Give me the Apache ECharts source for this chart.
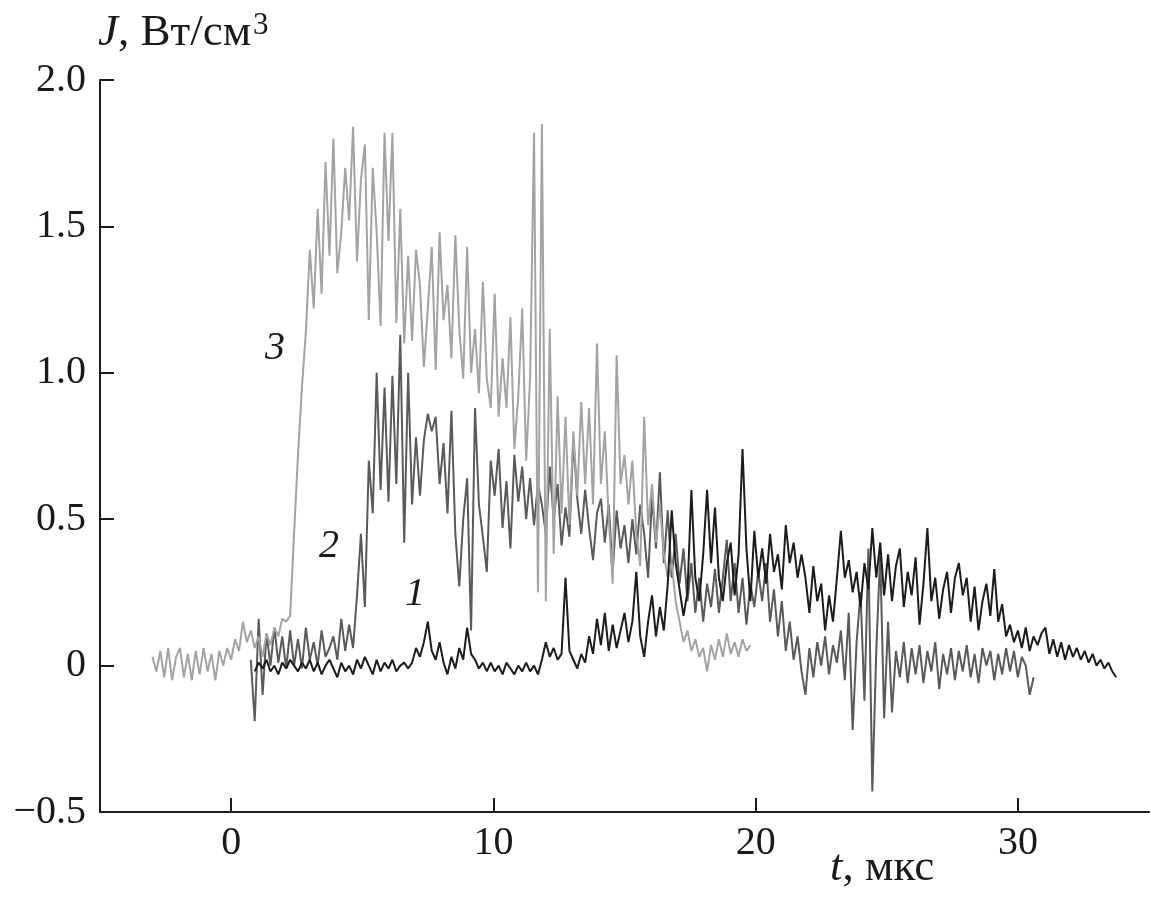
<!DOCTYPE html>
<html>
<head>
<meta charset="utf-8">
<script src="https://cdn.jsdelivr.net/npm/echarts@6/dist/echarts.min.js"></script>
<style>
html,body{margin:0;padding:0;background:#fff;}
#chart{width:1151px;height:904px;}
</style>
</head>
<body>
<div id="chart"></div>
<script>
// ---- data ----
// time sampling grid (мкс)
const dt = 0.15;
const t3Start = -3.0;
const t2Start = 0.75;
const t1Start = 0.9;

// curve 3 (light gray)
const curve3 = [
  0.03,-0.02,0.05,-0.04,0.06,-0.05,0.03,0.06,-0.04,0.04,
  -0.05,0.05,-0.03,0.06,-0.02,0.04,-0.05,0.05,0.00,0.06,
  0.02,0.09,0.05,0.15,0.08,0.12,0.06,0.10,0.03,0.11,
  0.07,0.13,0.10,0.16,0.15,0.17,0.45,0.72,0.95,1.14,
  1.42,1.22,1.56,1.27,1.72,1.40,1.80,1.34,1.48,1.70,
  1.52,1.84,1.38,1.66,1.78,1.18,1.70,1.48,1.16,1.82,
  1.45,1.82,1.17,1.56,1.10,1.40,1.11,1.42,1.30,1.02,
  1.22,1.43,1.01,1.48,1.18,1.30,1.05,1.47,1.15,0.98,
  1.43,1.00,1.15,0.93,1.31,0.98,0.88,1.27,0.85,1.05,
  0.88,1.19,0.74,0.92,1.22,0.70,0.98,1.82,0.25,1.85,
  0.22,1.15,0.38,0.92,0.52,0.85,0.48,0.80,0.58,0.90,
  0.62,0.88,0.55,1.10,0.62,0.80,0.50,0.28,1.06,0.62,
  0.72,0.55,0.70,0.45,0.34,0.85,0.48,0.62,0.42,0.55,
  0.38,0.30,0.35,0.22,0.15,0.08,0.12,0.05,0.09,0.03,
  0.06,-0.02,0.07,0.02,0.09,0.03,0.11,0.04,0.08,0.03,
  0.09,0.05,0.07
];

// curve 2 (medium gray)
const curve2 = [
  0.02,-0.19,0.16,-0.10,0.11,0.00,0.13,0.01,0.10,-0.01,
  0.12,0.00,0.09,-0.01,0.13,0.02,0.08,0.00,0.12,0.03,
  0.06,0.10,0.02,0.16,0.05,0.14,0.06,0.24,0.45,0.20,
  0.70,0.52,1.00,0.60,0.95,0.56,0.99,0.62,1.13,0.42,
  1.00,0.55,0.78,0.58,0.77,0.86,0.80,0.85,0.62,0.76,
  0.52,0.87,0.45,0.27,0.50,0.64,0.12,0.88,0.55,0.44,
  0.32,0.70,0.58,0.74,0.47,0.63,0.40,0.72,0.56,0.68,
  0.50,0.64,0.48,0.62,0.55,0.45,0.68,0.50,0.62,0.41,
  0.54,0.44,0.77,0.57,0.45,0.60,0.47,0.36,0.52,0.57,
  0.42,0.55,0.32,0.53,0.40,0.48,0.35,0.50,0.38,0.55,
  0.45,0.30,0.58,0.40,0.66,0.35,0.53,0.30,0.45,0.28,
  0.40,0.22,0.35,0.18,0.30,0.15,0.28,0.20,0.33,0.18,
  0.30,0.43,0.22,0.35,0.18,0.30,0.14,0.28,0.20,0.32,
  0.22,0.35,0.15,0.26,0.10,0.22,0.05,0.15,0.02,0.10,
  -0.02,-0.10,0.06,-0.04,0.08,0.00,0.10,-0.03,0.07,0.01,
  0.12,-0.05,0.18,-0.22,0.08,0.25,-0.12,0.40,-0.43,0.05,
  0.38,-0.18,0.15,-0.16,0.05,-0.04,0.08,-0.06,0.06,-0.03,
  0.07,-0.06,0.05,-0.02,0.08,-0.08,0.04,-0.03,0.06,-0.05,
  0.05,-0.02,0.07,-0.04,0.04,-0.06,0.06,0.00,0.05,-0.05,
  0.04,-0.03,0.06,-0.02,0.05,-0.04,0.03,0.00,-0.10,-0.04
];

// curve 1 (near black)
const curve1 = [
  -0.02,0.01,-0.01,0.02,-0.02,0.00,-0.03,0.01,-0.01,0.02,
  0.00,-0.02,0.01,-0.01,0.02,-0.02,0.01,-0.03,0.00,0.02,
  -0.01,-0.04,0.01,-0.02,0.00,-0.03,0.02,-0.01,0.03,0.00,
  -0.03,0.02,-0.02,0.01,-0.01,0.02,-0.02,0.00,0.01,-0.01,
  0.01,0.06,0.03,0.08,0.15,0.05,0.02,0.08,0.01,-0.03,
  0.03,-0.01,0.06,0.02,0.13,0.04,0.02,-0.01,0.01,-0.02,
  0.01,-0.02,0.00,-0.03,0.01,-0.01,-0.03,0.00,-0.02,0.01,
  -0.02,0.00,-0.03,0.02,0.08,0.03,0.06,0.02,0.04,0.30,
  0.05,0.02,-0.01,0.04,0.01,0.10,0.04,0.16,0.07,0.18,
  0.05,0.14,0.06,0.12,0.18,0.08,0.15,0.32,0.10,0.03,
  0.15,0.24,0.10,0.20,0.12,0.28,0.53,0.35,0.26,0.17,
  0.25,0.60,0.30,0.22,0.38,0.60,0.35,0.54,0.30,0.22,
  0.35,0.42,0.24,0.38,0.74,0.40,0.22,0.46,0.30,0.40,
  0.28,0.45,0.32,0.38,0.26,0.48,0.35,0.42,0.30,0.38,
  0.30,0.18,0.34,0.22,0.28,0.12,0.24,0.15,0.30,0.46,
  0.30,0.36,0.25,0.32,0.20,0.35,0.26,0.47,0.30,0.42,
  0.24,0.38,0.22,0.34,0.40,0.20,0.32,0.24,0.37,0.14,
  0.28,0.47,0.22,0.30,0.16,0.26,0.32,0.18,0.30,0.35,
  0.24,0.30,0.15,0.27,0.12,0.22,0.28,0.17,0.33,0.15,
  0.21,0.10,0.14,0.08,0.12,0.06,0.13,0.05,0.10,0.07,
  0.11,0.13,0.04,0.09,0.03,0.08,0.02,0.07,0.03,0.06,
  0.02,0.05,0.01,0.04,0.00,0.02,-0.01,0.01,-0.02,-0.04
];

// axis ticks
const xTicks = [0, 10, 20, 30];
const xMin = -5, xMax = 35;
const yMin = -0.5, yMax = 2.0, yStep = 0.5;

// ---- build ----
function toPairs(arr, t0) {
  return arr.map((v, i) => [+(t0 + i * dt).toFixed(3), v]);
}
const FONT = '"Liberation Serif", "DejaVu Serif", serif';
const INK = '#1a1a1a';

const chart = echarts.init(document.getElementById('chart'), null, {renderer: 'canvas'});
const lineSeries = (name, data, color, z) => ({
  name, type: 'line', data, showSymbol: false, symbol: 'none',
  lineStyle: {color, width: 2}, z, animation: false
});

chart.setOption({
  backgroundColor: '#ffffff',
  animation: false,
  grid: {left: 100, right: 2, top: 80, bottom: 92},
  xAxis: {
    type: 'value', min: xMin, max: xMax,
    axisLine: {show: true, onZero: false, lineStyle: {color: INK, width: 2}},
    axisTick: {show: true, inside: true, length: 14, customValues: xTicks, lineStyle: {color: INK, width: 2}},
    axisLabel: {customValues: xTicks, margin: 11, color: INK, fontFamily: FONT, fontSize: 40},
    splitLine: {show: false}
  },
  yAxis: {
    type: 'value', min: yMin, max: yMax, interval: yStep,
    axisLine: {show: true, onZero: false, lineStyle: {color: INK, width: 2}},
    axisTick: {show: true, inside: true, length: 14, lineStyle: {color: INK, width: 2}},
    axisLabel: {
      margin: 14, color: INK, fontFamily: FONT, fontSize: 40,
      formatter: v => v === 0 ? '0' : (v < 0 ? '\u2212' + Math.abs(v).toFixed(1) : v.toFixed(1))
    },
    splitLine: {show: false}
  },
  series: [
    lineSeries('2', toPairs(curve2, t2Start), '#5a5a5a', 2),
    lineSeries('3', toPairs(curve3, t3Start), '#a3a3a3', 3),
    lineSeries('1', toPairs(curve1, t1Start), '#1c1c1c', 4)
  ],
  graphic: [
    {type: 'text', left: 98, top: 10, style: {
      text: '{i|J}, Вт/см{s|3}', fill: INK,
      rich: {
        i: {fontFamily: FONT, fontStyle: 'italic', fontSize: 45, fill: INK},
        s: {fontFamily: FONT, fontSize: 31, verticalAlign: 'top', padding: [0, 0, 16, 2], fill: INK}
      },
      fontFamily: FONT, fontSize: 45
    }},
    {type: 'text', left: 830, top: 846, style: {
      text: '{i|t}, мкс', fill: INK,
      rich: {i: {fontFamily: FONT, fontStyle: 'italic', fontSize: 45, fill: INK}},
      fontFamily: FONT, fontSize: 45
    }},
    {type: 'text', left: 265, top: 328, style: {text: '3', fontFamily: FONT, fontStyle: 'italic', fontSize: 40, fill: INK}},
    {type: 'text', left: 319, top: 526, style: {text: '2', fontFamily: FONT, fontStyle: 'italic', fontSize: 40, fill: INK}},
    {type: 'text', left: 405, top: 574, style: {text: '1', fontFamily: FONT, fontStyle: 'italic', fontSize: 40, fill: INK}}
  ]
});
</script>
</body>
</html>
